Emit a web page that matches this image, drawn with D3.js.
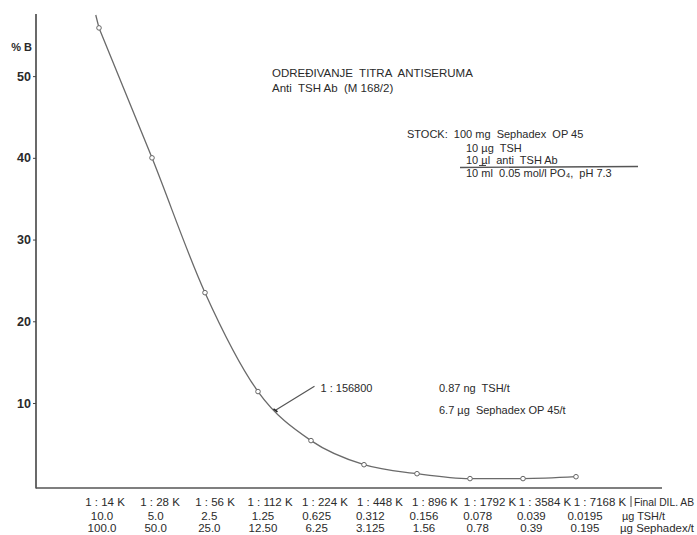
<!DOCTYPE html>
<html>
<head>
<meta charset="utf-8">
<script src="https://cdn.jsdelivr.net/npm/d3@7"></script>
<style>
  html, body { margin: 0; padding: 0; background: #fff; }
  svg { display: block; font-family: "Liberation Sans", Arial, Helvetica, sans-serif; }
  text { white-space: pre; }
</style>
</head>
<body>
<svg id="chart" width="697" height="535"></svg>
<script>
// ---- data ----
const dilutions = ["1 : 14 K", "1 : 28 K", "1 : 56 K", "1 : 112 K", "1 : 224 K",
                   "1 : 448 K", "1 : 896 K", "1 : 1792 K", "1 : 3584 K", "1 : 7168 K"];
const tshPerTube = ["10.0", "5.0", "2.5", "1.25", "0.625", "0.312", "0.156", "0.078", "0.039", "0.0195"];
const sephadexPerTube = ["100.0", "50.0", "25.0", "12.50", "6.25", "3.125", "1.56", "0.78", "0.39", "0.195"];
const percentB = [55.9, 40.0, 23.5, 11.4, 5.4, 2.45, 1.35, 0.75, 0.75, 0.98];
const yTicks = [10, 20, 30, 40, 50];
const rowUnits = ["Final DIL. AB", "µg TSH/t", "µg Sephadex/t"];
const titleLines = ["ODREĐIVANJE  TITRA  ANTISERUMA", "Anti  TSH Ab  (M 168/2)"];
const stockLines = ["STOCK:  100 mg  Sephadex  OP 45", "10 µg  TSH", "10 µl  anti  TSH Ab", "10 ml  0.05 mol/l PO\u2084,  pH 7.3"];
const annotation = { index: 3.33, value: 9.1, label: "1 : 156800" };
const annotationNotes = ["0.87 ng  TSH/t", "6.7 µg  Sephadex OP 45/t"];

// ---- scales ----
const svg = d3.select("#chart");
const y = d3.scaleLinear().domain([-0.4, 57.6]).range([488, 14]);
const x = d3.scaleLinear().domain([0, dilutions.length - 1]).range([99, 576]);
const xLab1 = d3.scaleLinear().domain([0, dilutions.length - 1]).range([105, 600]);
const xLab2 = d3.scaleLinear().domain([0, dilutions.length - 1]).range([102, 585]);

const ink = "#2a2a2a";
const baseY = y.range()[0];
const axisLeftX = 36;

// ---- axes ----
svg.append("line")
  .attr("x1", axisLeftX).attr("x2", axisLeftX)
  .attr("y1", y.range()[1]).attr("y2", baseY + 0.5)
  .attr("stroke", "#444").attr("stroke-width", 1.6);
svg.append("line")
  .attr("x1", axisLeftX).attr("x2", 662)
  .attr("y1", baseY).attr("y2", baseY)
  .attr("stroke", "#555").attr("stroke-width", 1.4);

const yAxis = svg.append("g")
  .attr("transform", `translate(${axisLeftX},0)`)
  .call(d3.axisLeft(y).tickValues(yTicks).tickSize(3).tickPadding(2).tickSizeOuter(0));
yAxis.select(".domain").remove();
yAxis.selectAll(".tick line").attr("stroke", "#444");
yAxis.selectAll(".tick text")
  .attr("fill", ink).attr("font-size", 12.5).attr("font-weight", "bold")
  .attr("font-family", "'Liberation Sans', Arial, sans-serif");

svg.append("text")
  .attr("x", 32).attr("y", 51).attr("text-anchor", "end")
  .attr("font-size", 11).attr("font-weight", "bold").attr("fill", ink)
  .text("% B");

// ---- curve ----
const pts = percentB.map((v, i) => [x(i), y(v)]);
// extend the curve upward along the initial direction to the top of the axis
const [p0, p1] = [pts[0], pts[1]];
const topY = y.range()[1] + 1;
const ext = [p0[0] + (p0[0] - p1[0]) * (p0[1] - topY) / (p1[1] - p0[1]) + 2, topY];
const line = d3.line().curve(d3.curveMonotoneX);
svg.append("path")
  .attr("d", d3.line()([ext, p0]))
  .attr("fill", "none").attr("stroke", "#6a6a6a").attr("stroke-width", 1.3);
svg.append("path")
  .attr("d", line(pts))
  .attr("fill", "none").attr("stroke", "#6a6a6a").attr("stroke-width", 1.3);

svg.selectAll("circle.pt")
  .data(percentB)
  .join("circle")
  .attr("class", "pt")
  .attr("cx", (d, i) => x(i))
  .attr("cy", d => y(d))
  .attr("r", 2.3)
  .attr("fill", "#fff").attr("stroke", "#666").attr("stroke-width", 1);

// ---- annotation ----
const ax = x(annotation.index), ay = y(annotation.value);
svg.append("line")
  .attr("x1", ax).attr("y1", ay).attr("x2", ax + 39).attr("y2", ay - 24)
  .attr("stroke", "#555").attr("stroke-width", 1.2);
svg.append("line")
  .attr("x1", ax - 2).attr("y1", ay - 1.5).attr("x2", ax + 2).attr("y2", ay + 1.5)
  .attr("stroke", "#222").attr("stroke-width", 1.6);
svg.append("text")
  .attr("x", ax + 45).attr("y", ay - 18)
  .attr("font-size", 11).attr("fill", ink).text(annotation.label);
svg.selectAll("text.note")
  .data(annotationNotes)
  .join("text")
  .attr("class", "note")
  .attr("x", 439).attr("y", (d, i) => ay - 18 + i * 22)
  .attr("font-size", 11).attr("fill", ink).text(d => d);

// ---- title ----
svg.selectAll("text.title")
  .data(titleLines)
  .join("text")
  .attr("class", "title")
  .attr("x", 272).attr("y", (d, i) => 77 + i * 15)
  .attr("font-size", 11.5).attr("fill", ink).text(d => d);

// ---- stock ----
svg.selectAll("text.stock")
  .data(stockLines)
  .join("text")
  .attr("class", "stock")
  .attr("x", (d, i) => i === 0 ? 407 : 466)
  .attr("y", (d, i) => [138, 152, 164, 177][i])
  .attr("font-size", 11).attr("fill", ink).text(d => d);
svg.append("line")
  .attr("x1", 460).attr("y1", 167.5).attr("x2", 638).attr("y2", 166.5)
  .attr("stroke", "#555").attr("stroke-width", 1.3);
svg.append("line")
  .attr("x1", 479).attr("y1", 165.5).attr("x2", 486).attr("y2", 165.5)
  .attr("stroke", "#333").attr("stroke-width", 0.9);

// ---- x labels ----
const rowY = [506, 520, 532];
svg.selectAll("text.dil")
  .data(dilutions)
  .join("text")
  .attr("class", "dil")
  .attr("x", (d, i) => xLab1(i)).attr("y", rowY[0])
  .attr("text-anchor", "middle").attr("font-size", 11.5).attr("fill", ink)
  .text(d => d);
svg.selectAll("text.tsh")
  .data(tshPerTube)
  .join("text")
  .attr("class", "tsh")
  .attr("x", (d, i) => xLab2(i)).attr("y", rowY[1])
  .attr("text-anchor", "middle").attr("font-size", 11.5).attr("fill", ink)
  .text(d => d);
svg.selectAll("text.seph")
  .data(sephadexPerTube)
  .join("text")
  .attr("class", "seph")
  .attr("x", (d, i) => xLab2(i)).attr("y", rowY[2])
  .attr("text-anchor", "middle").attr("font-size", 11.5).attr("fill", ink)
  .text(d => d);
svg.append("line")
  .attr("x1", 631).attr("x2", 631).attr("y1", rowY[0] - 10).attr("y2", rowY[0] + 1)
  .attr("stroke", "#444").attr("stroke-width", 1);
svg.selectAll("text.unit")
  .data(rowUnits)
  .join("text")
  .attr("class", "unit")
  .attr("x", (d, i) => [634, 622, 620][i]).attr("y", (d, i) => rowY[i])
  .attr("font-size", 11).attr("fill", ink)
  .attr("textLength", (d, i) => [60, 43, 74][i])
  .attr("lengthAdjust", "spacingAndGlyphs")
  .text(d => d);
</script>
</body>
</html>
